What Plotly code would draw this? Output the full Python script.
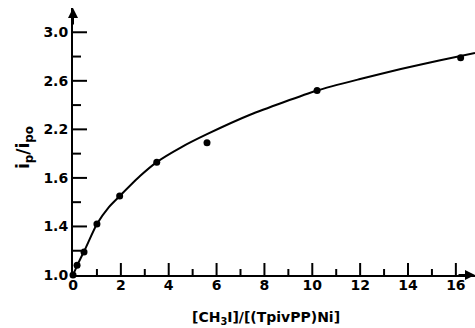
import plotly.graph_objects as go

# measured data points
pts_x = [0.0, 0.17, 0.46, 1.0, 1.95, 3.5, 5.6, 10.2, 16.2]
pts_y = [1.0, 1.08, 1.19, 1.42, 1.65, 1.93, 2.09, 2.52, 2.79]

# fitted curve
curve_x = [0.0, 0.25, 0.5, 1.0, 1.5, 2.0, 2.8, 3.5, 4.5, 5.6, 7.4, 10.2, 12.0, 13.7, 15.3, 16.8]
curve_y = [1.0, 1.11, 1.21, 1.42, 1.56, 1.66, 1.815, 1.93, 2.05, 2.16, 2.32, 2.52, 2.615, 2.697, 2.767, 2.83]

y_tickvals = [1.0, 1.4, 1.8, 2.2, 2.6, 3.0]
y_ticktext = ["1.0", "1.4", "1.6", "2.2", "2.6", "3.0"]
y_minorvals = [1.2, 1.6, 2.0, 2.4, 2.8]
x_tickvals = [0, 2, 4, 6, 8, 10, 12, 14, 16]
x_minorvals = [1, 3, 5, 7, 9, 11, 13, 15]

FONT = "DejaVu Sans"
XR = [0, 16.8]
YR = [1.0, 3.2]

fig = go.Figure()
fig.add_trace(go.Scatter(x=curve_x, y=curve_y, mode="lines",
                         line=dict(color="black", width=2, shape="spline", smoothing=0.6),
                         hoverinfo="skip", cliponaxis=False))
fig.add_trace(go.Scatter(x=pts_x, y=pts_y, mode="markers",
                         marker=dict(color="black", size=7), cliponaxis=False))

tickfont = dict(family=FONT, size=14, color="black", weight="bold")

fig.update_layout(
    width=475, height=328,
    margin=dict(l=73, r=0, t=8, b=53),
    plot_bgcolor="white", paper_bgcolor="white",
    showlegend=False,
    xaxis=dict(range=XR, showgrid=False, zeroline=False,
               showline=True, linecolor="black", linewidth=2, ticks="",
               tickmode="array", tickvals=x_tickvals, ticktext=[str(v) for v in x_tickvals],
               tickfont=tickfont, ticklabelstandoff=-4),
    yaxis=dict(range=YR, showgrid=False, zeroline=False,
               showline=True, linecolor="black", linewidth=2, ticks="",
               tickmode="array", tickvals=y_tickvals, ticktext=y_ticktext,
               tickfont=tickfont, ticklabelstandoff=0),
)

# tick marks as shapes: position from the tick arrays, length in pixels from the axis
for vals, ln, w in [(x_tickvals[1:], 12, 2), (x_minorvals, 6, 2)]:
    for v in vals:
        fig.add_shape(type="line", xref="x", yref="y", ysizemode="pixel", yanchor=YR[0],
                      x0=v, x1=v, y0=0, y1=ln, line=dict(color="black", width=w), layer="above")
for vals, ln, w in [(y_tickvals[1:], 14, 2), (y_minorvals, 8, 2)]:
    for v in vals:
        fig.add_shape(type="line", xref="x", yref="y", xsizemode="pixel", xanchor=XR[0],
                      x0=0, x1=ln, y0=v, y1=v, line=dict(color="black", width=w), layer="above")

# axis arrows
fig.add_annotation(x=0, y=3.2, xref="x", yref="y", ax=0, ay=18, text="",
                   showarrow=True, arrowhead=2, arrowsize=1, arrowwidth=2, arrowcolor="black")
fig.add_annotation(x=16.8, y=1.0, xref="x", yref="y", ax=-18, ay=0, text="",
                   showarrow=True, arrowhead=2, arrowsize=1, arrowwidth=2, arrowcolor="black")

# axis titles
fig.add_annotation(x=0.48, y=-0.161, xref="paper", yref="paper", yanchor="middle",
                   text="[CH<sub>3</sub>I]/[(TpivPP)Ni]",
                   showarrow=False, font=dict(family=FONT, size=14, color="black", weight="bold"))
fig.add_annotation(text="i<sub>p</sub>/i<sub>p</sub><sub>o</sub>", showarrow=False,
                   xref="paper", yref="paper", x=-0.119, y=0.476, textangle=-90,
                   xanchor="center", yanchor="middle",
                   font=dict(family=FONT, size=17, color="black", weight="bold"))

fig.write_html("out.html")
